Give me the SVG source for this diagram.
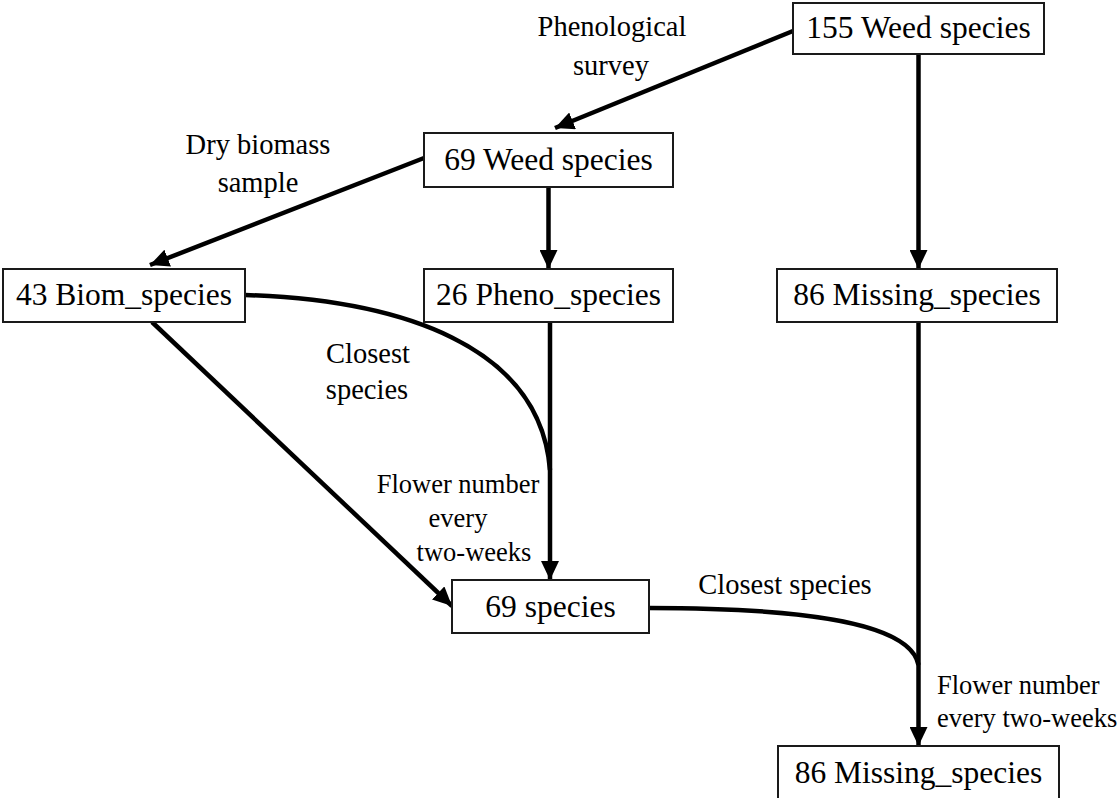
<svg xmlns="http://www.w3.org/2000/svg" width="1118" height="798" viewBox="0 0 1118 798">
<style>
  .box { fill: #ffffff; stroke: #1a1a1a; stroke-width: 2; }
  .bt { font-family: 'Liberation Serif', 'Tinos', 'Times New Roman', 'DejaVu Serif', serif; font-size: 31.5px; fill: #000; text-anchor: middle; }
  .lb { font-family: 'Liberation Serif', 'Tinos', 'Times New Roman', 'DejaVu Serif', serif; font-size: 28.5px; fill: #000; }
  .fl { font-size: 26.5px; }
  .c { text-anchor: middle; }
  .edge { fill: none; stroke: #000; stroke-width: 4.5; }
</style>
<defs>
  <marker id="ah" markerUnits="userSpaceOnUse" markerWidth="20" markerHeight="18" refX="19" refY="9" orient="auto">
    <path d="M0,0 L19,9 L0,18 Z" fill="#000"/>
  </marker>
</defs>
<rect width="1118" height="798" fill="#ffffff"/>
<g id="connectors">
  <path class="edge" d="M793,31 L555,128" marker-end="url(#ah)"/>
  <path class="edge" d="M918.5,54 L918.5,269" marker-end="url(#ah)"/>
  <path class="edge" d="M424,158 L150,265" marker-end="url(#ah)"/>
  <path class="edge" d="M548.5,187 L548.5,269" marker-end="url(#ah)"/>
  <path class="edge" d="M245,295 C400,300 540,345 550,470"/>
  <path class="edge" d="M550,322 L550,580" marker-end="url(#ah)"/>
  <path class="edge" d="M152,322 L452,606" marker-end="url(#ah)"/>
  <path class="edge" d="M649,608 C790,608 910,620 918.5,665"/>
  <path class="edge" d="M918.5,322 L918.5,746" marker-end="url(#ah)"/>
</g>
<g id="labels">
  <text class="lb c" x="612" y="36">Phenological</text>
  <text class="lb c" x="611" y="75">survey</text>
  <text class="lb c" x="258" y="154">Dry biomass</text>
  <text class="lb c" x="258" y="192">sample</text>
  <text class="lb c" x="368" y="363">Closest</text>
  <text class="lb c" x="367" y="399">species</text>
  <text class="lb fl c" x="458" y="493">Flower number</text>
  <text class="lb fl c" x="458" y="527">every</text>
  <text class="lb fl c" x="474" y="561">two-weeks</text>
  <text class="lb c" x="785" y="594">Closest species</text>
  <text class="lb fl" x="937" y="694">Flower number</text>
  <text class="lb fl" x="937" y="727">every two-weeks</text>
</g>
<g id="n155">
  <rect class="box" x="793" y="3" width="251" height="51"/>
  <text class="bt" x="918.5" y="38">155 Weed species</text>
</g>
<g id="n69weed">
  <rect class="box" x="424" y="133" width="249" height="54"/>
  <text class="bt" x="548.5" y="170">69 Weed species</text>
</g>
<g id="n43biom">
  <rect class="box" x="3" y="269" width="242" height="53"/>
  <text class="bt" x="124" y="305">43 Biom_species</text>
</g>
<g id="n26pheno">
  <rect class="box" x="424" y="269" width="249" height="53"/>
  <text class="bt" x="548.5" y="305">26 Pheno_species</text>
</g>
<g id="n86missing">
  <rect class="box" x="777" y="269" width="280" height="53"/>
  <text class="bt" x="917" y="305">86 Missing_species</text>
</g>
<g id="n69species">
  <rect class="box" x="452" y="580" width="197" height="53"/>
  <text class="bt" x="550.5" y="617">69 species</text>
</g>
<g id="n86missing2">
  <rect class="box" x="778" y="746" width="281" height="53"/>
  <text class="bt" x="918.5" y="783">86 Missing_species</text>
</g>
</svg>
